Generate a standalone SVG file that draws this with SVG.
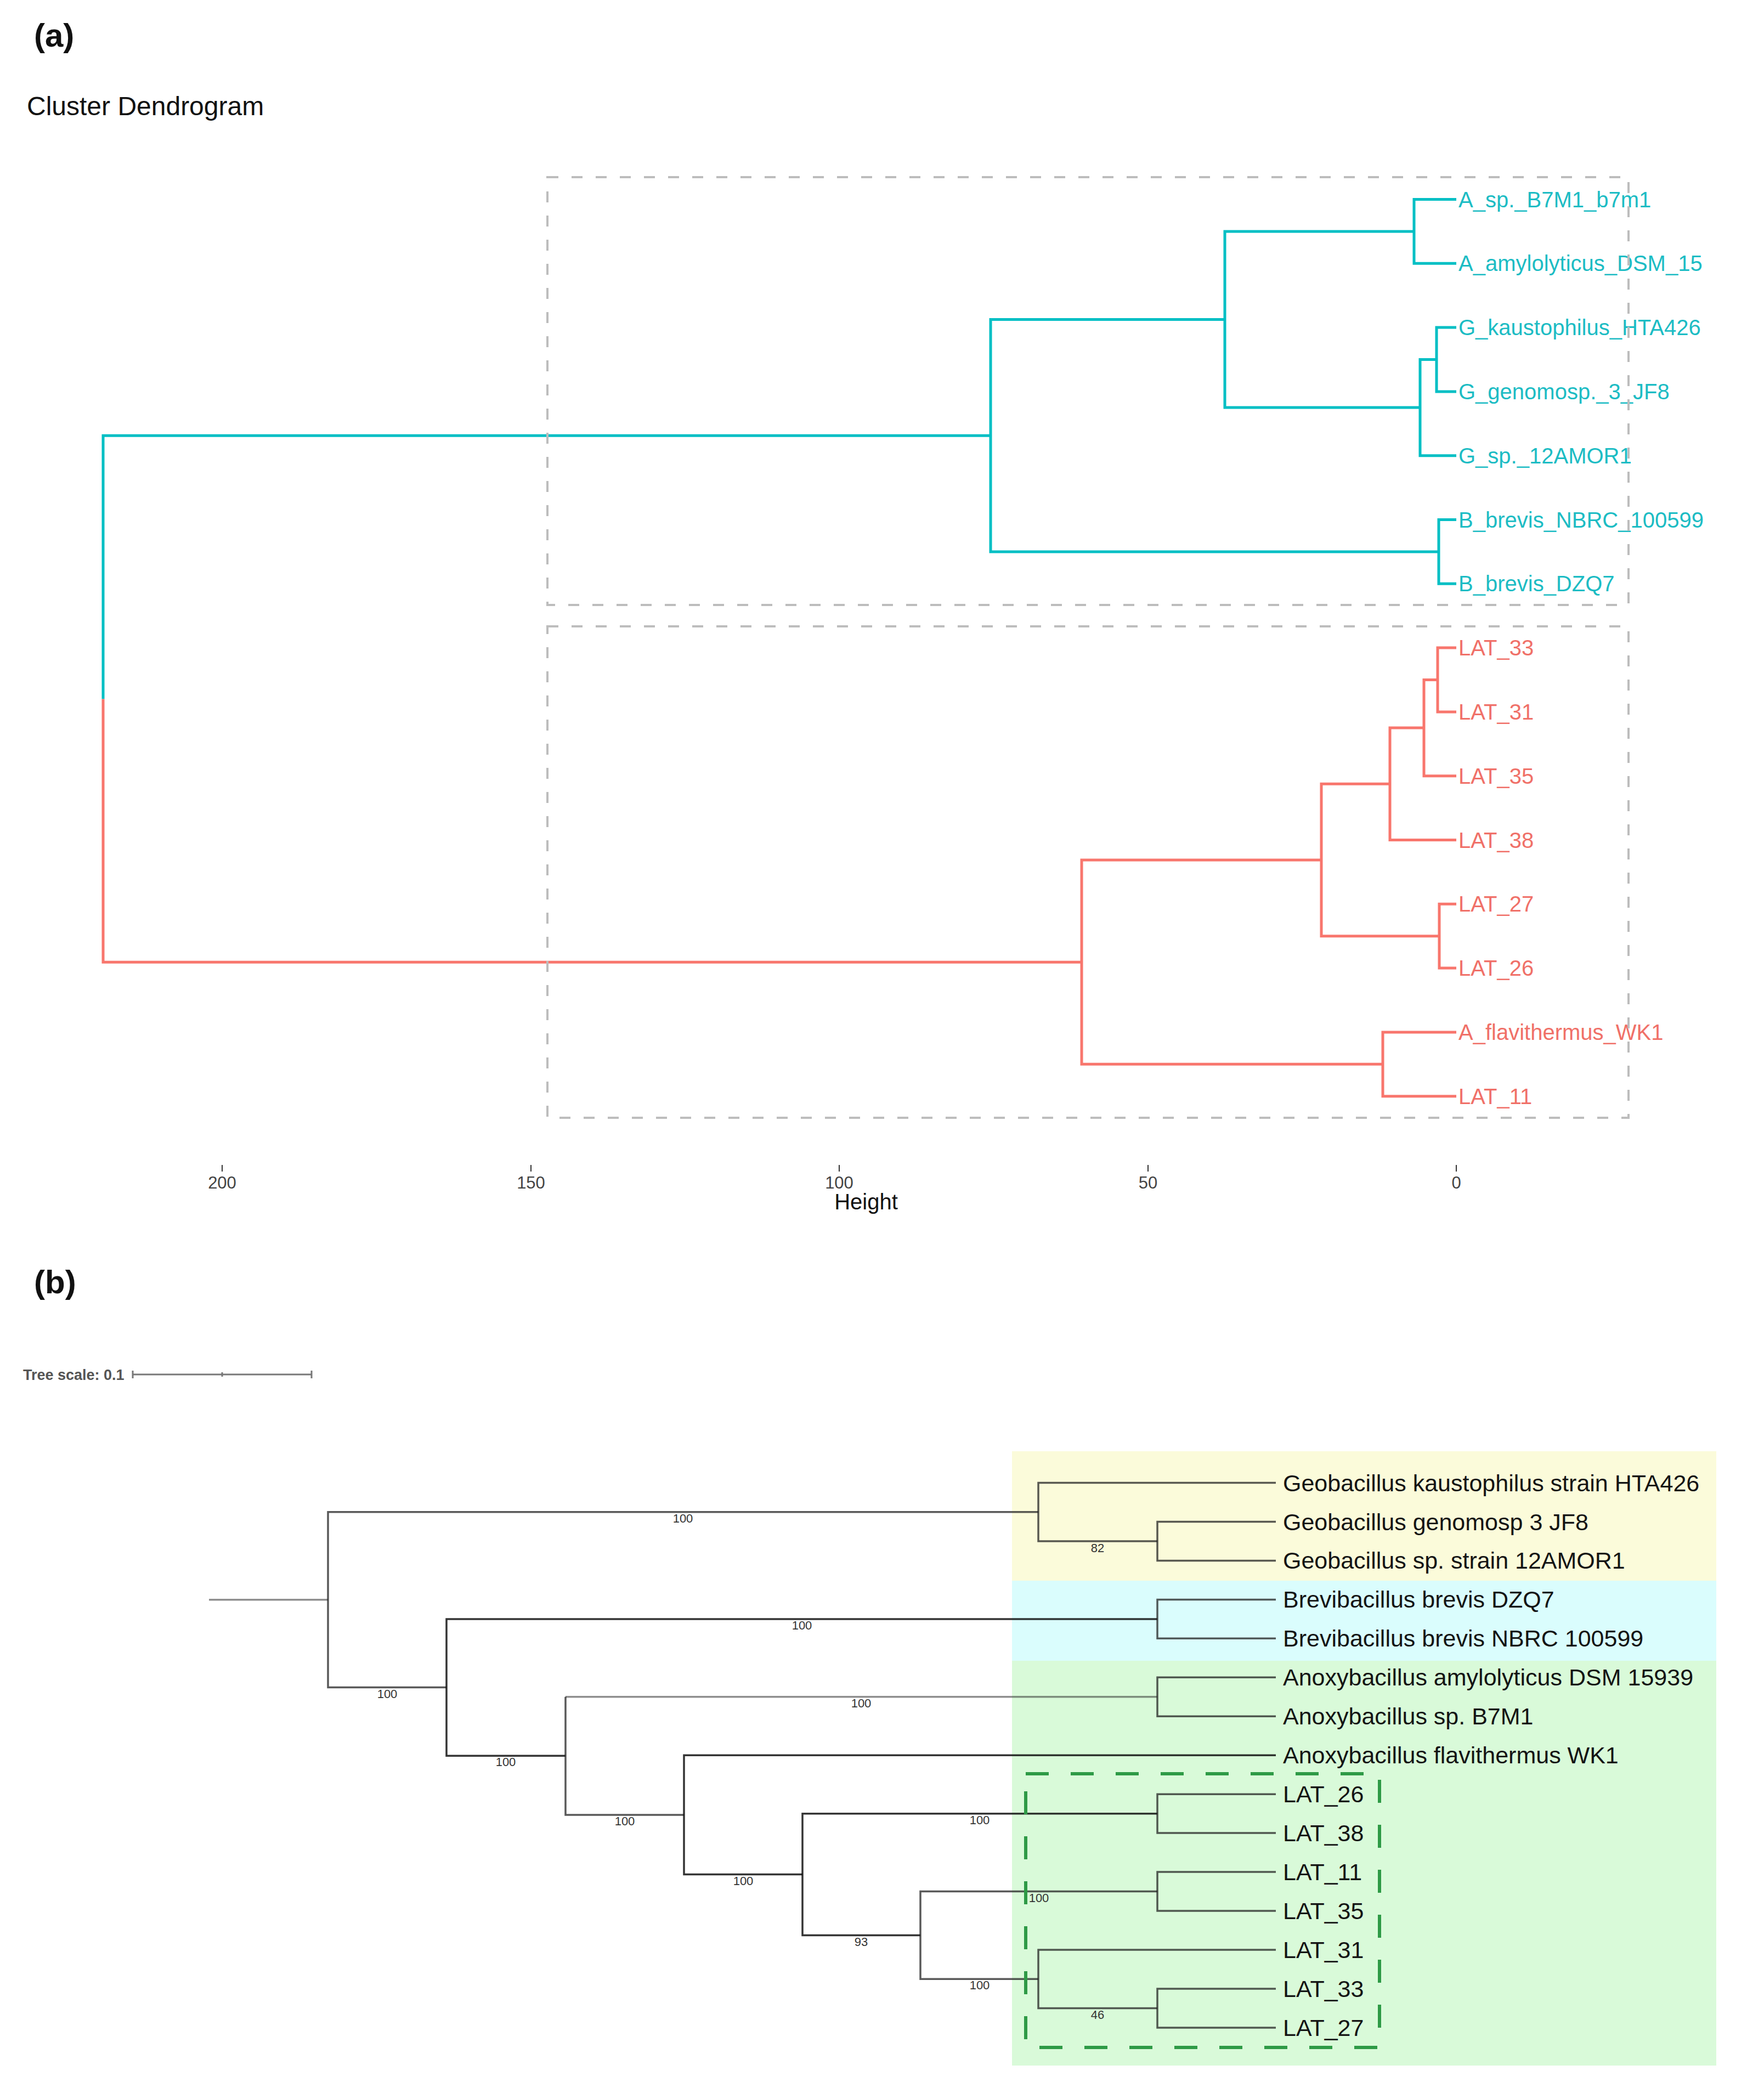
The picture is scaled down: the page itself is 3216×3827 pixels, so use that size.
<svg xmlns="http://www.w3.org/2000/svg" width="3216" height="3827" viewBox="0 0 3216 3827">
<style>
text{font-family:"Liberation Sans",Arial,sans-serif}
.panel{font-size:60px;font-weight:bold;fill:#111}
.cy{fill:none;stroke:#00BFC4;stroke-width:5}
.rd{fill:none;stroke:#F8766D;stroke-width:5}
.lc{font-size:40px;fill:#1CBCC4}
.lr{font-size:40px;fill:#F07068}
.box{fill:none;stroke:#BDBDBD;stroke-width:4;stroke-dasharray:20 24}
.tick{stroke:#333;stroke-width:2}
.tl{font-size:31px;fill:#444;text-anchor:middle}
.br{fill:none;stroke:#222;stroke-opacity:0.75;stroke-width:3.5}
.bl{fill:none;stroke:#222;stroke-opacity:0.5;stroke-width:3.5}
.bd{fill:none;stroke:#111;stroke-opacity:0.85;stroke-width:3.5}
.lf{font-size:43px;fill:#141414}
.bs{font-size:22px;fill:#333;text-anchor:middle}
</style>

<!-- Panel (a) -->
<text class="panel" x="62" y="85">(a)</text>
<text x="49" y="210" font-size="48" fill="#111">Cluster Dendrogram</text>

<g id="connectors-a">
<path class="cy" d="M2655 363.5H2578V480.3H2655"/>
<path class="cy" d="M2655 597.1H2619V713.9H2655"/>
<path class="cy" d="M2619 655.5H2589V830.7H2655"/>
<path class="cy" d="M2578 421.9H2233V743.1H2589"/>
<path class="cy" d="M2655 947.5H2623V1064.3H2655"/>
<path class="cy" d="M2233 582.5H1806V1005.9H2623"/>
<path class="cy" d="M1806 794.2H188V1274.4"/>
<path class="rd" d="M2655 1181.1H2621V1297.9H2655"/>
<path class="rd" d="M2621 1239.5H2596V1414.7H2655"/>
<path class="rd" d="M2596 1327.1H2534V1531.5H2655"/>
<path class="rd" d="M2655 1648.3H2624V1765.1H2655"/>
<path class="rd" d="M2534 1429.3H2409V1706.7H2624"/>
<path class="rd" d="M2655 1881.9H2521V1998.7H2655"/>
<path class="rd" d="M2409 1568H1972V1940.3H2521"/>
<path class="rd" d="M188 1274.4V1754.2H1972"/>
</g>

<g id="leaf-a-A_sp_B7M1"><text class="lc" x="2659" y="377.5">A_sp._B7M1_b7m1</text></g>
<g id="leaf-a-A_amylolyticus"><text class="lc" x="2659" y="494.3">A_amylolyticus_DSM_15</text></g>
<g id="leaf-a-G_kaustophilus"><text class="lc" x="2659" y="611.1">G_kaustophilus_HTA426</text></g>
<g id="leaf-a-G_genomosp"><text class="lc" x="2659" y="727.9">G_genomosp._3_JF8</text></g>
<g id="leaf-a-G_sp"><text class="lc" x="2659" y="844.7">G_sp._12AMOR1</text></g>
<g id="leaf-a-B_brevis_NBRC"><text class="lc" x="2659" y="961.5">B_brevis_NBRC_100599</text></g>
<g id="leaf-a-B_brevis_DZQ7"><text class="lc" x="2659" y="1078.3">B_brevis_DZQ7</text></g>
<g id="leaf-a-LAT_33"><text class="lr" x="2659" y="1195.1">LAT_33</text></g>
<g id="leaf-a-LAT_31"><text class="lr" x="2659" y="1311.9">LAT_31</text></g>
<g id="leaf-a-LAT_35"><text class="lr" x="2659" y="1428.7">LAT_35</text></g>
<g id="leaf-a-LAT_38"><text class="lr" x="2659" y="1545.5">LAT_38</text></g>
<g id="leaf-a-LAT_27"><text class="lr" x="2659" y="1662.3">LAT_27</text></g>
<g id="leaf-a-LAT_26"><text class="lr" x="2659" y="1779.1">LAT_26</text></g>
<g id="leaf-a-A_flavithermus"><text class="lr" x="2659" y="1895.9">A_flavithermus_WK1</text></g>
<g id="leaf-a-LAT_11"><text class="lr" x="2659" y="2012.7">LAT_11</text></g>

<g id="cluster-boxes-a">
<rect class="box" x="998" y="323" width="1971" height="780"/>
<rect class="box" x="998" y="1142" width="1971" height="896"/>
</g>

<g id="axis-a">
<line class="tick" x1="405" y1="2124" x2="405" y2="2136"/>
<line class="tick" x1="968" y1="2124" x2="968" y2="2136"/>
<line class="tick" x1="1530" y1="2124" x2="1530" y2="2136"/>
<line class="tick" x1="2093" y1="2124" x2="2093" y2="2136"/>
<line class="tick" x1="2655" y1="2124" x2="2655" y2="2136"/>
<text class="tl" x="405" y="2167">200</text>
<text class="tl" x="968" y="2167">150</text>
<text class="tl" x="1530" y="2167">100</text>
<text class="tl" x="2093" y="2167">50</text>
<text class="tl" x="2655" y="2167">0</text>
<text x="1579" y="2205" font-size="40" fill="#111" text-anchor="middle">Height</text>
</g>

<!-- Panel (b) -->
<text class="panel" x="62" y="2358">(b)</text>
<g id="tree-scale">
<text x="42" y="2516" font-size="27" font-weight="bold" fill="#555">Tree scale: 0.1</text>
<path d="M242 2506H568M242 2499V2513M568 2499V2513M405 2502V2510" fill="none" stroke="#777" stroke-width="3"/>
</g>

<g id="clade-backgrounds">
<rect x="1845" y="2646" width="1284" height="236" fill="#FBFBDA"/>
<rect x="1845" y="2882" width="1284" height="146" fill="#DAFDFD"/>
<rect x="1845" y="3028" width="1284" height="738" fill="#D9FAD9"/>
</g>

<g id="connectors-b">
<path class="bl" d="M381 2916.7H598"/>
<path class="br" d="M1893 2756.7H598V3076.6H814"/>
<path class="br" d="M2326 2703.5H1893V2810H2110"/>
<path class="br" d="M2326 2774.5H2110V2845.4H2326"/>
<path class="bd" d="M2110 2951.9H814V3201.3H1031"/>
<path class="br" d="M2326 2916.4H2110V2987.3H2326"/>
<path class="bl" d="M2110 3093.8H1031"/>
<path class="br" d="M1031 3093.8V3308.9H1247"/>
<path class="br" d="M2326 3058.3H2110V3129.3H2326"/>
<path class="bd" d="M2326 3200.2H1247V3417.5H1463"/>
<path class="bd" d="M2110 3306.7H1463V3528.4H1678"/>
<path class="br" d="M2326 3271.2H2110V3342.1H2326"/>
<path class="br" d="M2110 3448.6H1678V3608.2H1893"/>
<path class="br" d="M2326 3413.1H2110V3484.1H2326"/>
<path class="br" d="M2326 3555H1893V3661.5H2110"/>
<path class="br" d="M2326 3626H2110V3697H2326"/>
</g>

<g id="bootstrap-values">
<text class="bs" x="1245" y="2776">100</text>
<text class="bs" x="706" y="3096">100</text>
<text class="bs" x="1462" y="2971">100</text>
<text class="bs" x="922" y="3220">100</text>
<text class="bs" x="1570" y="3113">100</text>
<text class="bs" x="1139" y="3328">100</text>
<text class="bs" x="1355" y="3437">100</text>
<text class="bs" x="1786" y="3326">100</text>
<text class="bs" x="1570" y="3548">93</text>
<text class="bs" x="1894" y="3468">100</text>
<text class="bs" x="1786" y="3627">100</text>
<text class="bs" x="2001" y="3681">46</text>
<text class="bs" x="2001" y="2830">82</text>
</g>

<g id="leaf-b-G_kaustophilus"><text class="lf" x="2339" y="2718.5">Geobacillus kaustophilus strain HTA426</text></g>
<g id="leaf-b-G_genomosp"><text class="lf" x="2339" y="2789.5">Geobacillus genomosp 3 JF8</text></g>
<g id="leaf-b-G_sp"><text class="lf" x="2339" y="2860.4">Geobacillus sp. strain 12AMOR1</text></g>
<g id="leaf-b-B_brevis_DZQ7"><text class="lf" x="2339" y="2931.4">Brevibacillus brevis DZQ7</text></g>
<g id="leaf-b-B_brevis_NBRC"><text class="lf" x="2339" y="3002.3">Brevibacillus brevis NBRC 100599</text></g>
<g id="leaf-b-A_amylolyticus"><text class="lf" x="2339" y="3073.3">Anoxybacillus amylolyticus DSM 15939</text></g>
<g id="leaf-b-A_sp_B7M1"><text class="lf" x="2339" y="3144.3">Anoxybacillus sp. B7M1</text></g>
<g id="leaf-b-A_flavithermus"><text class="lf" x="2339" y="3215.2">Anoxybacillus flavithermus WK1</text></g>
<g id="leaf-b-LAT_26"><text class="lf" x="2339" y="3286.2">LAT_26</text></g>
<g id="leaf-b-LAT_38"><text class="lf" x="2339" y="3357.1">LAT_38</text></g>
<g id="leaf-b-LAT_11"><text class="lf" x="2339" y="3428.1">LAT_11</text></g>
<g id="leaf-b-LAT_35"><text class="lf" x="2339" y="3499.1">LAT_35</text></g>
<g id="leaf-b-LAT_31"><text class="lf" x="2339" y="3570">LAT_31</text></g>
<g id="leaf-b-LAT_33"><text class="lf" x="2339" y="3641">LAT_33</text></g>
<g id="leaf-b-LAT_27"><text class="lf" x="2339" y="3712">LAT_27</text></g>

<g id="lat-cluster-box">
<rect x="1870" y="3234" width="645" height="499" fill="none" stroke="#2E9A46" stroke-width="6" stroke-dasharray="42 40"/>
</g>
</svg>
